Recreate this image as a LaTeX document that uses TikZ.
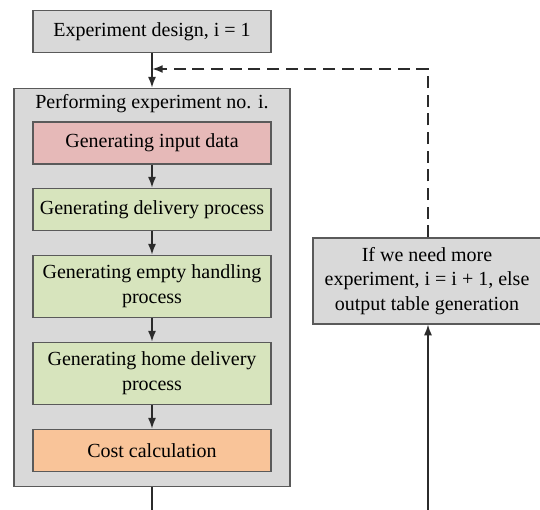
\documentclass[tikz,border=0pt]{standalone}
\usepackage{fontspec}
\setmainfont{Liberation Serif}
\usetikzlibrary{arrows.meta}
\definecolor{boxgray}{HTML}{D9D9D9}
\definecolor{edgegray}{HTML}{5A5A5A}
\definecolor{inred}{HTML}{E6B9B8}
\definecolor{ingreen}{HTML}{D7E4BD}
\definecolor{inorange}{HTML}{F9C499}
\definecolor{linegray}{HTML}{2B2B2B}
\tikzset{
  txt/.style={font=\fontsize{15}{18.5}\selectfont},
  box/.style={txt, draw=edgegray, line width=0.9pt, align=center, inner sep=0pt},
  flow/.style={line width=1.1pt, draw=linegray, -{Latex[length=8pt,width=6pt]}},
  back/.style={line width=1.5pt, draw=linegray, dash pattern=on 9pt off 5pt,
    -{Latex[length=8pt,width=6pt]}}
}
\begin{document}
\begin{tikzpicture}[x=0.75pt, y=-0.75pt]
\useasboundingbox (0,0) rectangle (540,510);
\clip (0,0) rectangle (540,510);

% start of the loop
\node[box, fill=boxgray, minimum width=178.5pt, minimum height=32pt]
  (design) at (152,31.5) {Experiment design, i = 1};

% one experiment with its steps
\node[box, fill=boxgray, minimum width=207pt, minimum height=299pt]
  (run) at (152,287.5) {};
\node[txt, anchor=west, inner sep=0pt]
  (runlabel) at (35,104) {Performing experiment no. i.};

\node[box, fill=inred, minimum width=178.5pt, minimum height=31.5pt]
  (input) at (152,143) {Generating input data};
\node[box, fill=ingreen, minimum width=178.5pt, minimum height=32pt]
  (delivery) at (152,209.5) {Generating delivery process};
\node[box, fill=ingreen, minimum width=178.5pt, minimum height=47pt]
  (empty) at (152,286.5) {Generating empty handling\\process};
\node[box, fill=ingreen, minimum width=178.5pt, minimum height=47pt]
  (home) at (152,373.5) {Generating home delivery\\process};
\node[box, fill=inorange, minimum width=178.5pt, minimum height=32pt]
  (cost) at (152,450.5) {Cost calculation};

% decision
\node[box, fill=boxgray, minimum width=171pt, minimum height=64.5pt]
  (decide) at (427,281) {If we need more\\experiment, i = i + 1, else\\output table generation};

% connectors
\coordinate (merge) at (152,69);
\coordinate (corner) at (428,69);
\coordinate (below) at (152,540);

\draw[flow] (design.south) -- (run.north);
\draw[back] (decide.north -| corner) -- (corner) -- (merge);
\foreach \a/\b in {input/delivery, delivery/empty, empty/home, home/cost}
  \draw[flow] (\a.south) -- (\b.north);
\draw[flow] (run.south) -- (below) -| (decide.south -| corner);
\end{tikzpicture}
\end{document}
